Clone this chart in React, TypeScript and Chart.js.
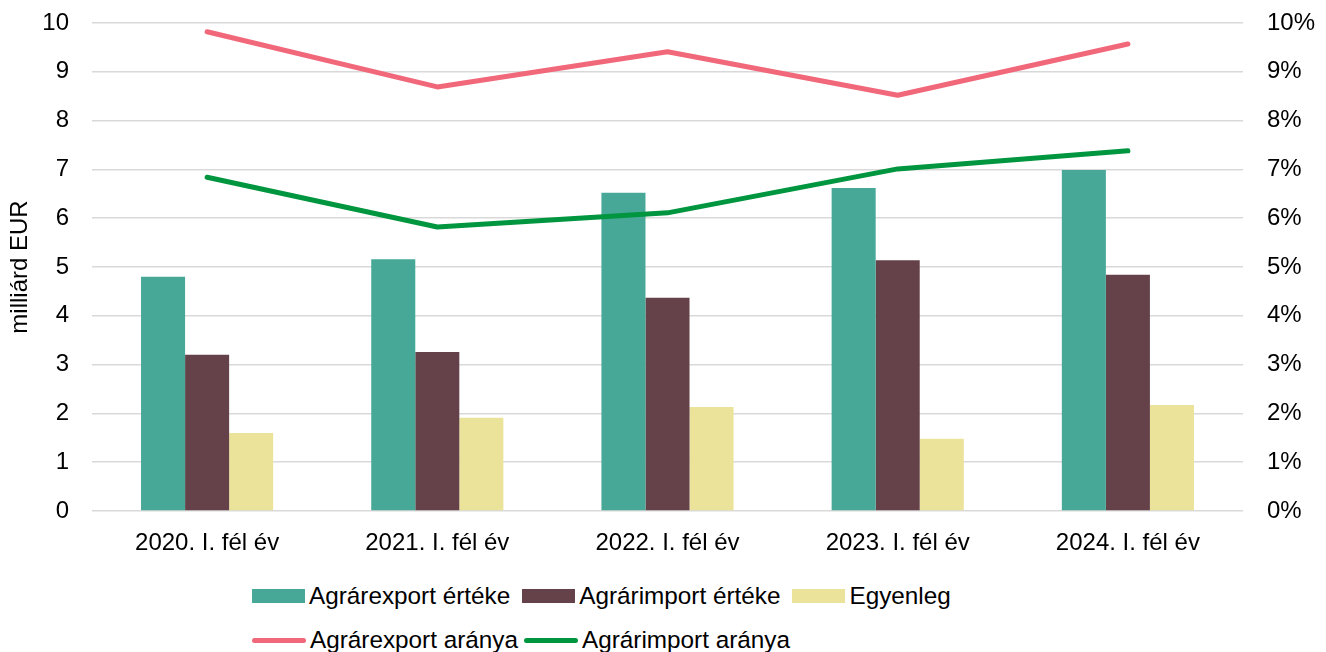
import React, { useEffect, useRef } from "react";
import { Chart, registerables } from "chart.js";

Chart.register(...registerables);

const categories = [
  "2020. I. fél év",
  "2021. I. fél év",
  "2022. I. fél év",
  "2023. I. fél év",
  "2024. I. fél év",
];
const exportValues = [4.8, 5.16, 6.52, 6.62, 6.99];
const importValues = [3.2, 3.26, 4.37, 5.14, 4.84];
const balanceValues = [1.6, 1.91, 2.13, 1.48, 2.17];
const exportShare = [9.82, 8.69, 9.41, 8.52, 9.57];
const importShare = [6.84, 5.82, 6.11, 7.01, 7.38];
const leftTicks = [0, 1, 2, 3, 4, 5, 6, 7, 8, 9, 10];
const rightTicks = ["0%", "1%", "2%", "3%", "4%", "5%", "6%", "7%", "8%", "9%", "10%"];

const FONT = "'Liberation Sans', Arial, sans-serif";
const COLORS = {
  export: "#47a898",
  import: "#654249",
  balance: "#ebe39a",
  exportLine: "#f1687a",
  importLine: "#00963f",
};

const legendRow1 = [
  { label: "Agrárexport értéke", color: COLORS.export, kind: "box" },
  { label: "Agrárimport értéke", color: COLORS.import, kind: "box" },
  { label: "Egyenleg", color: COLORS.balance, kind: "box" },
];
const legendRow2 = [
  { label: "Agrárexport aránya", color: COLORS.exportLine, kind: "line" },
  { label: "Agrárimport aránya", color: COLORS.importLine, kind: "line" },
];

function LegendRow({ items, top, gap }: { items: any[]; top: number; gap: number }) {
  return (
    <div
      style={{
        position: "absolute",
        left: 252,
        top,
        height: 30,
        display: "flex",
        alignItems: "center",
        fontFamily: FONT,
        fontSize: 24.3,
        color: "#000",
        whiteSpace: "nowrap",
      }}
    >
      {items.map((it, i) => (
        <div
          key={i}
          style={{ display: "flex", alignItems: "center", marginRight: gap }}
        >
          {it.kind === "box" ? (
            <div style={{ width: 53, height: 14, background: it.color }} />
          ) : (
            <div
              style={{ width: 54, height: 5, borderRadius: 3, background: it.color }}
            />
          )}
          <span style={{ marginLeft: 4, lineHeight: "30px" }}>{it.label}</span>
        </div>
      ))}
    </div>
  );
}

export default function App() {
  const ref = useRef<HTMLCanvasElement | null>(null);

  useEffect(() => {
    if (!ref.current) return;
    const tickFont = { family: FONT, size: 24 };
    const chart = new Chart(ref.current, {
      type: "bar",
      data: {
        labels: categories,
        datasets: [
          {
            type: "line",
            label: "Agrárexport aránya",
            data: exportShare,
            yAxisID: "y1",
            borderColor: COLORS.exportLine,
            backgroundColor: COLORS.exportLine,
            borderWidth: 5,
            pointRadius: 0,
            borderCapStyle: "round",
            borderJoinStyle: "round",
            tension: 0,
            order: 0,
          } as any,
          {
            type: "line",
            label: "Agrárimport aránya",
            data: importShare,
            yAxisID: "y1",
            borderColor: COLORS.importLine,
            backgroundColor: COLORS.importLine,
            borderWidth: 5,
            pointRadius: 0,
            borderCapStyle: "round",
            borderJoinStyle: "round",
            tension: 0,
            order: 0,
          } as any,
          {
            label: "Agrárexport értéke",
            data: exportValues,
            backgroundColor: COLORS.export,
            yAxisID: "y",
            order: 1,
          },
          {
            label: "Agrárimport értéke",
            data: importValues,
            backgroundColor: COLORS.import,
            yAxisID: "y",
            order: 1,
          },
          {
            label: "Egyenleg",
            data: balanceValues,
            backgroundColor: COLORS.balance,
            yAxisID: "y",
            order: 1,
          },
        ],
      },
      options: {
        animation: false,
        responsive: true,
        maintainAspectRatio: false,
        layout: { padding: { top: 23, bottom: 0, left: 0, right: 0 } },
        datasets: {
          bar: { categoryPercentage: 0.574, barPercentage: 1 },
        } as any,
        plugins: {
          legend: { display: false },
          tooltip: { enabled: false },
        },
        scales: {
          x: {
            grid: { display: false, drawTicks: false },
            border: { display: false },
            ticks: { font: tickFont, color: "#000", padding: 18, maxRotation: 0 },
            afterFit: (s: any) => {
              s.height = 64;
            },
          },
          y: {
            position: "left",
            min: 0,
            max: 10,
            afterBuildTicks: (s: any) => {
              s.ticks = leftTicks.map((v) => ({ value: v }));
            },
            ticks: { font: tickFont, color: "#000", padding: 23 },
            grid: { color: "#d9d9d9", lineWidth: 1.5, drawTicks: false },
            border: { display: false },
            title: {
              display: true,
              text: "milliárd EUR",
              font: tickFont,
              color: "#000",
              padding: { top: 6, bottom: 0 },
            },
            afterFit: (s: any) => {
              s.width = 92;
              s.paddingTop = 0;
              s.paddingBottom = 0;
            },
          },
          y1: {
            position: "right",
            min: 0,
            max: 10,
            afterBuildTicks: (s: any) => {
              s.ticks = leftTicks.map((v) => ({ value: v }));
            },
            ticks: {
              font: tickFont,
              color: "#000",
              padding: 24,
              callback: (_v: any, i: number) => rightTicks[i],
            },
            grid: { display: false, drawTicks: false },
            border: { display: false },
            afterFit: (s: any) => {
              s.width = 83;
              s.paddingTop = 0;
              s.paddingBottom = 0;
            },
          },
        },
      },
    });
    return () => chart.destroy();
  }, []);

  return (
    <div
      style={{
        position: "fixed",
        left: 0,
        top: 0,
        width: 1326,
        height: 652,
        background: "#fff",
        overflow: "hidden",
      }}
    >
      <div style={{ position: "absolute", left: 0, top: 0, width: 1326, height: 575 }}>
        <canvas ref={ref} />
      </div>
      <LegendRow items={legendRow1} top={581} gap={12} />
      <LegendRow items={legendRow2} top={625} gap={6} />
    </div>
  );
}
